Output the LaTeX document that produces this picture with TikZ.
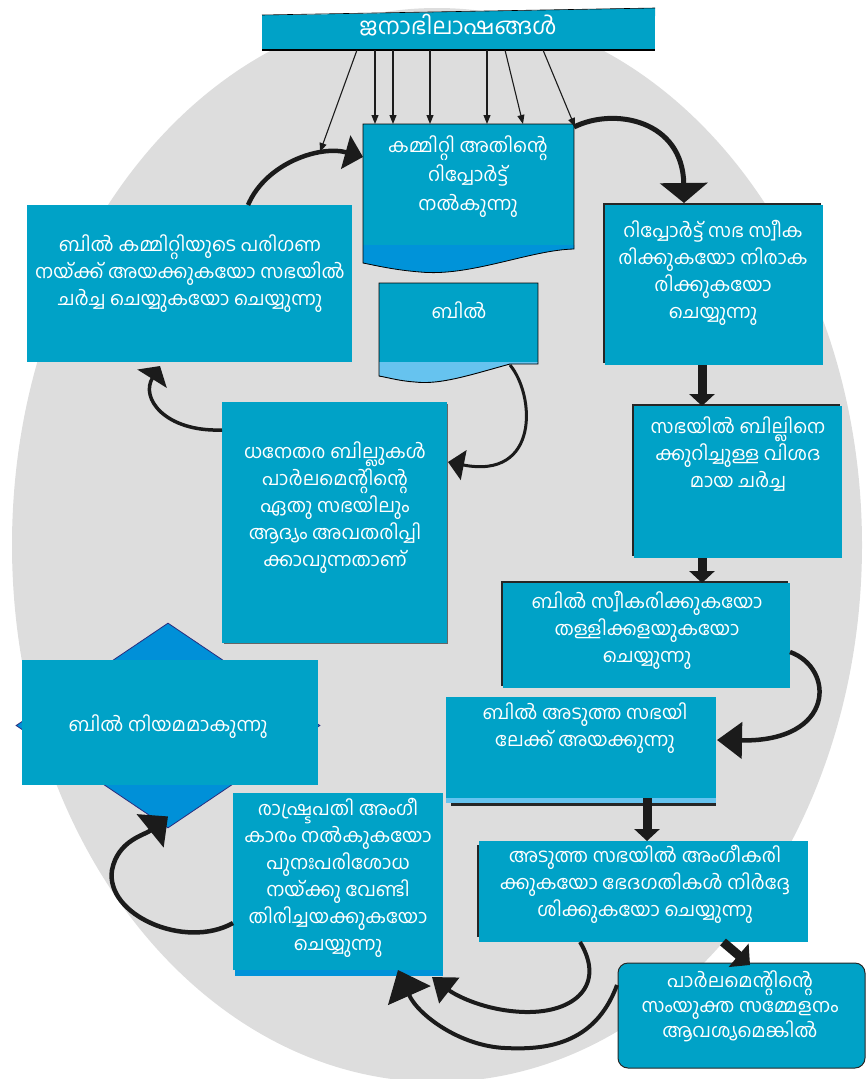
\documentclass[tikz,border=0pt]{standalone}
\usepackage{fontspec}
\newfontfamily\mal[Script=Malayalam]{Hind Kochi}
\usetikzlibrary{arrows.meta,shapes.geometric,calc}
\definecolor{boxc}{HTML}{00A2C7}
\definecolor{stripc}{HTML}{0093D9}
\definecolor{lightb}{HTML}{66C3EF}
\definecolor{grayc}{HTML}{DDDDDD}
\definecolor{arrc}{HTML}{1B1B1B}
\definecolor{navy}{HTML}{2B2D7E}
\definecolor{diac}{HTML}{0090D8}
\newcommand\tst{\rule{0pt}{20pt}}
\begin{document}
\begin{tikzpicture}[x=1pt,y=-1pt,
 box/.style={fill=boxc, inner sep=0pt, outer sep=0pt, anchor=north west},
 txt/.style={text=white, font=\mal\fontsize{19pt}{27pt}\selectfont, align=center, inner sep=0pt, anchor=north},
 thinarr/.style={draw=arrc, line width=1.1pt, -{Triangle[length=9pt,width=7pt]}},
 curv/.style={draw=arrc, line width=4.5pt, -{Triangle[length=20pt,width=34pt]}},
 vert/.style={draw=arrc, line width=9pt, -{Triangle[length=12pt,width=25pt]}},
]
\useasboundingbox (0,0) rectangle (867,1079);
\fill[grayc] (437,545) ellipse [x radius=425, y radius=537];

% top bar
\node[box, minimum width=393pt, minimum height=35pt] (top) at (262,15) {};
\fill[boxc] (262,15.5) -- (655,8) -- (655,16) -- (262,16) -- cycle;
\draw[black, line width=0.6pt] (262,15) -- (655,8);
\draw[black, line width=1.8pt] (top.south west) -- (top.south east);
\node[txt, font=\mal\fontsize{23pt}{25pt}\selectfont] (topt) at (458,14) {\tst ജനാഭിലാഷങ്ങൾ};

% committee report box (document shape)
\node[box, minimum width=211pt, minimum height=121pt] (cbox) at (363,124) {};
\fill[stripc] (cbox.south west) -- (cbox.south east) -- (574,249) .. controls (530,250) and (470,277) .. (420,272) .. controls (395,270) and (378,266) .. (363,263) -- cycle;
\draw[black, line width=0.8pt] (cbox.north west) -- (cbox.north east) -- (574,249) .. controls (530,250) and (470,277) .. (420,272) .. controls (395,270) and (378,266) .. (363,263) -- cycle;
\node[txt, font=\mal\fontsize{19pt}{29pt}\selectfont] (cboxt) at (468,132) {\tst കമ്മിറ്റി അതിന്റെ\\റിപ്പോർട്ട്\\നൽകുന്നു};

% report box
\fill[black!85] (603,203) rectangle (821,363);
\node[box, minimum width=218pt, minimum height=160pt] (rbox) at (605,205) {};
\node[txt] (rboxt) at (713,217) {\tst റിപ്പോർട്ട് സഭ സ്വീക\\രിക്കുകയോ നിരാക\\രിക്കുകയോ\\ചെയ്യുന്നു};

% bill committee box
\node[box, minimum width=325pt, minimum height=157pt] (bcbox) at (27,205) {};
\node[txt] (bcboxt) at (190,231) {\tst ബിൽ കമ്മിറ്റിയുടെ പരിഗണ\\നയ്ക്ക് അയക്കുകയോ സഭയിൽ\\ചർച്ച ചെയ്യുകയോ ചെയ്യുന്നു};

% bill box (document shape)
\node[box, minimum width=159pt, minimum height=79pt] (bill) at (379,283) {};
\fill[lightb] (bill.south west) -- (bill.south east) -- (538,364) -- (510,364) .. controls (470,375) and (440,385) .. (415,382) .. controls (400,381) and (390,378) .. (379,376) -- cycle;
\draw[black, line width=0.9pt] (bill.north west) -- (bill.north east) -- (538,364) -- (510,364) .. controls (470,375) and (440,385) .. (415,382) .. controls (400,381) and (390,378) .. (379,376) -- cycle;
\node[txt] (billt) at (459,298) {\tst ബിൽ};

% debate box
\fill[black!85] (632,404) rectangle (840,556);
\node[box, minimum width=208pt, minimum height=152pt] (dbox) at (634,406) {};
\node[txt] (dboxt) at (738,413) {\tst സഭയിൽ ബില്ലിനെ\\ക്കുറിച്ചുള്ള വിശദ\\മായ ചർച്ച};

% non-money bill box
\fill[black!60] (224,404) rectangle (448,644);
\node[box, minimum width=225pt, minimum height=241pt] (nmbox) at (222,402) {};
\node[txt] (nmboxt) at (335,438) {\tst ധനേതര ബില്ലുകൾ\\പാർലമെന്റിന്റെ\\ഏതു സഭയിലും\\ആദ്യം അവതരിപ്പി\\ക്കാവുന്നതാണ്};

% accept box
\fill[black!85] (501,581) rectangle (788,686);
\node[box, minimum width=287pt, minimum height=105pt] (abox) at (503,583) {};
\node[txt] (aboxt) at (647,588) {\tst ബിൽ സ്വീകരിക്കുകയോ\\തള്ളിക്കളയുകയോ\\ചെയ്യുന്നു};

% send box
\fill[black!85] (451,700) rectangle (716,806);
\fill[lightb] (446,697) rectangle (716,803);
\node[box, minimum width=270pt, minimum height=101pt] (sbox) at (446,697) {};
\node[txt] (sboxt) at (585,699) {\tst ബിൽ അടുത്ത സഭയി\\ലേക്ക് അയക്കുന്നു};

% diamond and law box
\node[diamond, fill=diac, draw=navy, line width=0.8pt, minimum width=304pt, minimum height=205pt, aspect=1.48, inner sep=0pt] (dia) at (168,725.5) {};
\node[box, minimum width=296pt, minimum height=125pt] (law) at (22,660) {};
\node[txt] (lawt) at (168,711) {\tst ബിൽ നിയമമാകുന്നു};

% president box
\fill[stripc] (235,960) rectangle (443,976);
\node[box, minimum width=210pt, minimum height=177pt] (pbox) at (233,793) {};
\node[txt] (pboxt) at (338,795) {\tst രാഷ്ട്രപതി അംഗീ\\കാരം നൽകുകയോ\\പുനഃപരിശോധ\\നയ്ക്കു വേണ്ടി\\തിരിച്ചയക്കുകയോ\\ചെയ്യുന്നു};

% next house box
\fill[black!85] (477,845) rectangle (700,937);
\node[box, minimum width=329pt, minimum height=101pt] (nbox) at (479,841) {};
\node[txt] (nboxt) at (645,842) {\tst അടുത്ത സഭയിൽ അംഗീകരി\\ക്കുകയോ ഭേദഗതികൾ നിർദ്ദേ\\ശിക്കുകയോ ചെയ്യുന്നു};

% joint session box
\node[box, draw=black!85, line width=1pt, rounded corners=10pt, minimum width=247pt, minimum height=105pt] (jbox) at (618,963) {};
\node[txt, font=\mal\fontsize{19pt}{25pt}\selectfont] (jboxt) at (740,967) {\tst പാർലമെന്റിന്റെ\\സംയുക്ത സമ്മേളനം\\ആവശ്യമെങ്കിൽ};

% thin arrows from top bar
\coordinate (a1end) at (320,152);
\draw[thinarr] ($(top.south west)+(95,0)$) -- (a1end);
\draw[thinarr] ($(top.south west)+(113,0)$) -- ($(cbox.north west)+(12,0)$);
\draw[thinarr] ($(top.south west)+(131,0)$) -- ($(cbox.north west)+(30,0)$);
\draw[thinarr] ($(top.south west)+(168,0)$) -- ($(cbox.north west)+(67,0)$);
\draw[thinarr] ($(top.south west)+(225,0)$) -- ($(cbox.north west)+(124,0)$);
\draw[thinarr] ($(top.south west)+(243,0)$) -- ($(cbox.north west)+(160,0)$);
\draw[thinarr] ($(top.south west)+(281,0)$) -- ($(cbox.north east)+(1,3)$);

% committee -> report
\draw[draw=arrc, line width=5pt, -{Triangle[length=20pt,width=47pt]}] ($(cbox.north east)+(0,3)$) .. controls (614,107) and (683,120) .. ($(rbox.north west)+(79,-2)$);
% report -> debate
\draw[vert] ($(rbox.south west)+(97,0)$) -- ($(dbox.north west)+(68,0)$);
% debate -> accept
\draw[vert] ($(dbox.south west)+(68,0)$) -- ($(abox.north west)+(199,0)$);
% accept -> send
\draw[curv, -{Triangle[length=25pt,width=36pt]}] ($(abox.north east)+(0,69)$) .. controls (835,668) and (836,742) .. ($(sbox.north east)+(1,43)$);
% send -> next
\draw[vert] ($(sbox.south west)+(201,0)$) -- ($(nbox.north west)+(168,0)$);
% next -> joint
\draw[vert, -{Triangle[length=15pt,width=30pt]}] ($(nbox.south west)+(244,0)$) -- ($(jbox.north west)+(132,2)$);
% next -> president
\draw[curv, line width=4pt, -{Triangle[length=22pt,width=32pt]}] ($(nbox.south west)+(101,0)$) .. controls (606,985) and (575,1013) .. (525,1012) .. controls (485,1011) and (455,995) .. ($(pbox.south west)+(199,7)$);
% joint -> president
\draw[curv, line width=4pt, -{Triangle[length=28pt,width=46pt]}] ($(jbox.north west)+(-1,22)$) .. controls (595,1045) and (545,1050) .. (505,1048) .. controls (460,1046) and (418,1015) .. ($(pbox.south west)+(165,0)$);
% president -> law (diamond)
\draw[curv, -{Triangle[length=23pt,width=42pt]}] ($(pbox.north west)+(0,130)$) .. controls (185,950) and (105,915) .. (112,870) .. controls (118,840) and (145,835) .. ($(dia.south)+(0,-12)$);
% non-money -> bill committee
\draw[curv, line width=3.5pt, -{Triangle[length=15pt,width=34pt]}] ($(nmbox.north west)+(0,28)$) .. controls (165,432) and (140,398) .. ($(bcbox.south west)+(133,4)$);
% bill -> non-money
\draw[curv, line width=3pt, -{Triangle[length=16pt,width=30pt]}] ($(bill.south east)+(-28,3)$) .. controls (535,395) and (540,480) .. ($(nmbox.north east)+(1,60)$);
% bill committee -> committee
\draw[curv, -{Triangle[length=18pt,width=34pt]}] ($(bcbox.north west)+(221,0)$) .. controls (266,163) and (320,145) .. ($(cbox.north west)+(0,33)$);
\end{tikzpicture}
\end{document}
